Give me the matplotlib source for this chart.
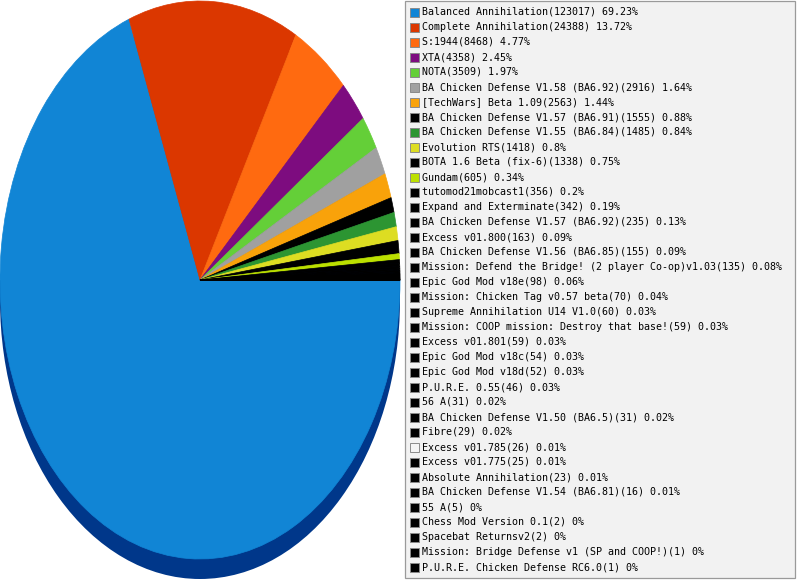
import matplotlib
matplotlib.use('Agg')
import matplotlib.pyplot as plt
from matplotlib.patches import Ellipse, Rectangle

names = [
    "Balanced Annihilation", "Complete Annihilation", "S:1944", "XTA", "NOTA",
    "BA Chicken Defense V1.58 (BA6.92)", "[TechWars] Beta 1.09",
    "BA Chicken Defense V1.57 (BA6.91)", "BA Chicken Defense V1.55 (BA6.84)",
    "Evolution RTS", "BOTA 1.6 Beta (fix-6)", "Gundam", "tutomod21mobcast1",
    "Expand and Exterminate", "BA Chicken Defense V1.57 (BA6.92)", "Excess v01.800",
    "BA Chicken Defense V1.56 (BA6.85)",
    "Mission: Defend the Bridge! (2 player Co-op)v1.03", "Epic God Mod v18e",
    "Mission: Chicken Tag v0.57 beta", "Supreme Annihilation U14 V1.0",
    "Mission: COOP mission: Destroy that base!", "Excess v01.801",
    "Epic God Mod v18c", "Epic God Mod v18d", "P.U.R.E. 0.55", "56 A",
    "BA Chicken Defense V1.50 (BA6.5)", "Fibre", "Excess v01.785", "Excess v01.775",
    "Absolute Annihilation", "BA Chicken Defense V1.54 (BA6.81)", "55 A",
    "Chess Mod Version 0.1", "Spacebat Returnsv2",
    "Mission: Bridge Defense v1 (SP and COOP!)", "P.U.R.E. Chicken Defense RC6.0",
]
counts = [123017, 24388, 8468, 4358, 3509, 2916, 2563, 1555, 1485, 1418, 1338, 605,
          356, 342, 235, 163, 155, 135, 98, 70, 60, 59, 59, 54, 52, 46, 31, 31, 29,
          26, 25, 23, 16, 5, 2, 2, 1, 1]
percents = ["69.23", "13.72", "4.77", "2.45", "1.97", "1.64", "1.44", "0.88", "0.84",
            "0.8", "0.75", "0.34", "0.2", "0.19", "0.13", "0.09", "0.09", "0.08",
            "0.06", "0.04", "0.03", "0.03", "0.03", "0.03", "0.03", "0.03", "0.02",
            "0.02", "0.02", "0.01", "0.01", "0.01", "0.01", "0", "0", "0", "0", "0"]
colors = ["#1185D5", "#DB3700", "#FF6A10", "#7D0C7F", "#64CF38", "#A0A0A0", "#F9A20A",
          "#000000", "#2C9532", "#DDDD22", "#000000", "#BCE000"] + ["#000000"] * 26
colors[29] = "#F4F4F4"  # Excess v01.785
side_color = "#00378A"

W, H = 797, 580
fig = plt.figure(figsize=(W / 100, H / 100), dpi=100)

# ---- pie (elliptical, with depth) ----
cy, ry, depth = 280.0, 279.0, 20.0
ax = fig.add_axes([0, 0, 400 / W, 1])
d = depth / ry
ax.add_patch(Ellipse((0, -d), 2, 2, facecolor=side_color, edgecolor='none', zorder=0))
ax.add_patch(Rectangle((-1, -d), 2, d, facecolor=side_color, edgecolor='none', zorder=0))
wedges, _ = ax.pie(counts, colors=colors, startangle=0, counterclock=False, radius=1,
                   wedgeprops=dict(linewidth=0))
for w, col in zip(wedges, colors):
    if col != "#F4F4F4":
        w.set_edgecolor(col)
        w.set_linewidth(0.5)
ax.set_aspect('auto')
ax.set_xlim(-1, 1)
ax.set_ylim(-(H - cy) / ry, cy / ry)
ax.axis('off')

# ---- legend ----
lg = fig.add_axes([0, 0, 1, 1])
lg.set_xlim(0, W)
lg.set_ylim(H, 0)
lg.axis('off')
lg.patch.set_alpha(0)
lg.add_patch(Rectangle((405.5, 0.5), 390, 577.5, facecolor='#F2F2F2',
                       edgecolor='#9A9A9A', linewidth=0.9))
for i, (n, c, p, col) in enumerate(zip(names, counts, percents, colors)):
    y = 12 + 15 * i
    lg.add_patch(Rectangle((410.5, y - 4.5), 9, 9, facecolor=col,
                           edgecolor='#8A8A8A', linewidth=0.7))
    lg.text(422, y, f"{n}({c}) {p}%", va='center', ha='left',
            fontfamily='DejaVu Sans Mono', fontsize=7.2, color='#000000')

fig.savefig('out.png', dpi=100)
